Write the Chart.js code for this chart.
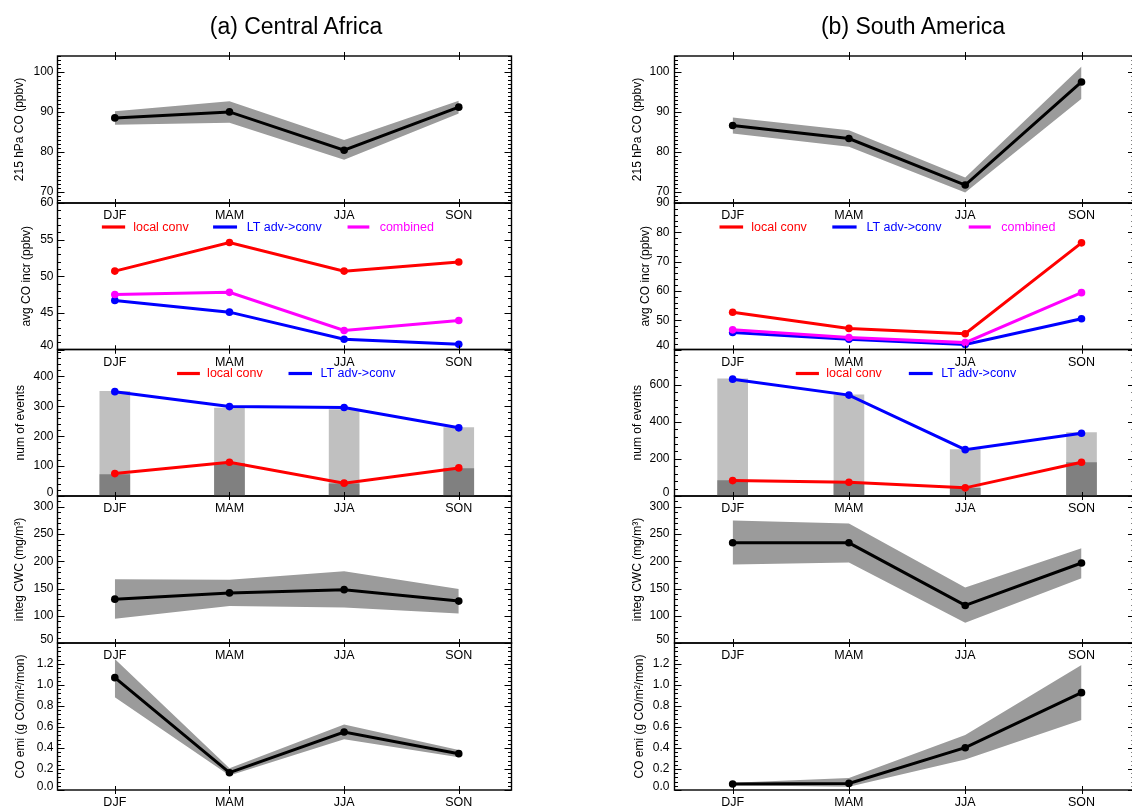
<!DOCTYPE html>
<html><head><meta charset="utf-8">
<script src="https://cdn.jsdelivr.net/npm/chart.js@4.4.1/dist/chart.umd.min.js"></script>
<style>
html,body{margin:0;padding:0;background:#fff;overflow:hidden;width:1132px;height:808px;}
#wrap{position:relative;width:1132px;height:808px;overflow:hidden;background:#fff;}
canvas{position:absolute;left:0;top:0;}
.ttl{position:absolute;top:12.5px;line-height:26px;font-size:23px;font-family:"Liberation Sans",Arial,Helvetica,sans-serif;color:#000;transform:translateX(-50%);white-space:nowrap;z-index:50;}
</style></head><body>
<div id="wrap">
<div class="ttl" style="left:296px">(a) Central Africa</div>
<div class="ttl" style="left:913px">(b) South America</div>
</div>
<script>
// ---------------- data ----------------
const seasons = ['DJF', 'MAM', 'JJA', 'SON'];

// (a) Central Africa
const afCO      = [88.5, 90.0, 80.4, 91.2];
const afCOhi    = [90.2, 92.7, 83.0, 92.8];
const afCOlo    = [86.8, 87.3, 78.0, 89.6];
const afIncrLocal = [50.7, 54.6, 50.7, 51.95];
const afIncrLT    = [46.7, 45.1, 41.4, 40.7];
const afIncrComb  = [47.5, 47.8, 42.6, 43.95];
const afEvLocal   = [75, 113, 43, 94];
const afEvLT      = [349, 299, 296, 228];
const afBarTotal  = [350, 294, 289, 229];
const afBarLocal  = [72, 109, 41, 92];
const afCWC     = [130.5, 142, 148, 127];
const afCWChi   = [167, 166, 182, 149];
const afCWClo   = [94.5, 118, 115, 104];
const afEmi     = [1.07, 0.165, 0.552, 0.346];
const afEmiHi   = [1.248, 0.206, 0.625, 0.38];
const afEmiLo   = [0.883, 0.137, 0.483, 0.311];

// (b) South America
const saCO      = [86.6, 83.35, 71.7, 97.5];
const saCOhi    = [88.6, 85.4, 73.6, 101.4];
const saCOlo    = [84.6, 81.3, 69.8, 93.3];
const saIncrLocal = [52.7, 47.2, 45.4, 76.4];
const saIncrLT    = [45.8, 43.5, 41.7, 50.5];
const saIncrComb  = [46.7, 44.1, 42.35, 59.4];
const saEvLocal   = [83, 74, 44, 182];
const saEvLT      = [630, 544, 250, 338];
const saBarTotal  = [632, 546, 250, 342];
const saBarLocal  = [83, 74, 42, 180];
const saCWC     = [234, 234, 119, 197];
const saCWChi   = [275, 269.5, 152, 224];
const saCWClo   = [194, 198, 87, 169];
const saEmi     = [0.057, 0.063, 0.403, 0.927];
const saEmiHi   = [0.07, 0.114, 0.524, 1.19];
const saEmiLo   = [0.045, 0.03, 0.29, 0.667];

// y axis tick labels per row
const yTicksCO   = [70, 80, 90, 100];
const yTicksIncrAf = [40, 45, 50, 55, 60];
const yTicksIncrSa = [40, 50, 60, 70, 80, 90];
const yTicksEvAf = [0, 100, 200, 300, 400];
const yTicksEvSa = [0, 200, 400, 600];
const yTicksCWC  = [50, 100, 150, 200, 250, 300];
const yTicksEmi  = [0, 0.2, 0.4, 0.6, 0.8, 1.0, 1.2];

// ---------------- styling / layout ----------------
const FONT = '"Liberation Sans", Arial, Helvetica, sans-serif';
const RED = '#ff0000', BLUE = '#0000ff', MAG = '#ff00ff';
const BAND = '#9b9b9b', BAR_LIGHT = '#c0c0c0', BAR_DARK = '#808080';
const CW = 1145, CH = 825;
const COLS = [{L: 57.5, R: 511.5}, {L: 674.5, R: 1135}];
const ROWS = [56, 203, 349.5, 496, 643, 790];
const YW = 45, XH = 24;
const wrap = document.getElementById('wrap');

const pts = arr => arr.map((v, i) => ({x: i, y: v}));

function lineDS(arr, color, order) {
  return {type: 'line', data: pts(arr), borderColor: color, borderWidth: 3, pointRadius: 3.8,
    pointBackgroundColor: color, pointBorderWidth: 0, pointHoverRadius: 3.8, tension: 0, fill: false, order};
}
function bandDS(hi, lo) {
  return [
    {type: 'line', data: pts(hi), borderColor: 'rgba(0,0,0,0)', borderWidth: 0, pointRadius: 0, fill: '+1', backgroundColor: BAND, tension: 0, order: 5},
    {type: 'line', data: pts(lo), borderColor: 'rgba(0,0,0,0)', borderWidth: 0, pointRadius: 0, fill: false, tension: 0, order: 6}
  ];
}
function barDS(arr, color, order) {
  return {type: 'bar', data: pts(arr), backgroundColor: color, borderWidth: 0, barThickness: 30, grouped: false, order};
}

const decor = {
  id: 'decor',
  afterDatasetsDraw(chart, args, o) {
    const {ctx, chartArea: a, scales: {x, y}} = chart;
    ctx.save();
    ctx.strokeStyle = '#000';
    ctx.lineWidth = 1;
    // minor y ticks
    const k0 = Math.ceil(y.min / o.minor - 1e-6), k1 = Math.floor(y.max / o.minor + 1e-6);
    ctx.beginPath();
    for (let k = k0; k <= k1; k++) {
      const v = k * o.minor;
      const major = o.major.some(m => Math.abs(m - v) < o.minor * 0.01);
      const len = major ? 7 : 3.5;
      const py = Math.round(y.getPixelForValue(v)) + 0.5;
      ctx.moveTo(a.left, py); ctx.lineTo(a.left + len, py);
      ctx.moveTo(a.right, py); ctx.lineTo(a.right - len, py);
    }
    // category ticks top & bottom
    for (let i = 0; i < seasons.length; i++) {
      const px = Math.round(x.getPixelForValue(i)) + 0.5;
      ctx.moveTo(px, a.bottom - 4); ctx.lineTo(px, a.bottom + 4);
      ctx.moveTo(px, a.top - 4); ctx.lineTo(px, a.top + 4);
    }
    ctx.stroke();
    // frame
    ctx.lineWidth = 1.4;
    ctx.strokeRect(a.left, a.top, a.right - a.left, a.bottom - a.top);
    // legend
    if (o.legend) {
      const ly = a.top + 24;
      ctx.font = '12.5px ' + FONT;
      ctx.textBaseline = 'middle';
      ctx.textAlign = 'left';
      for (const it of o.legend) {
        ctx.strokeStyle = it.c; ctx.lineWidth = 3.2;
        ctx.beginPath();
        ctx.moveTo(x.getPixelForValue(it.x0), ly);
        ctx.lineTo(x.getPixelForValue(it.x1), ly);
        ctx.stroke();
        ctx.fillStyle = it.c;
        ctx.fillText(it.t, x.getPixelForValue(it.xt), ly + 0.5);
      }
    }
    ctx.restore();
  }
};

const legIncr = [
  {c: RED, t: 'local conv', x0: -0.113, x1: 0.09, xt: 0.16},
  {c: BLUE, t: 'LT adv->conv', x0: 0.857, x1: 1.066, xt: 1.15},
  {c: MAG, t: 'combined', x0: 2.03, x1: 2.22, xt: 2.31}
];
const legEv = [
  {c: RED, t: 'local conv', x0: 0.543, x1: 0.742, xt: 0.805},
  {c: BLUE, t: 'LT adv->conv', x0: 1.515, x1: 1.72, xt: 1.793}
];

function makePanel(col, row, p) {
  const cv = document.createElement('canvas');
  cv.width = CW; cv.height = CH;
  cv.style.width = CW + 'px'; cv.style.height = CH + 'px';
  cv.style.zIndex = String(20 - row);
  wrap.appendChild(cv);
  const {L, R} = COLS[col];
  const T = ROWS[row], B = ROWS[row + 1];
  const isMin = v => Math.abs(v - p.min) < 1e-9;
  new Chart(cv, {
    type: 'line',
    data: {datasets: p.datasets},
    options: {
      responsive: false, animation: false, devicePixelRatio: 1,
      events: [],
      layout: {padding: {left: L - YW, right: CW - R, top: T, bottom: CH - B - XH}},
      plugins: {
        legend: {display: false}, tooltip: {enabled: false},
        decor: {minor: p.minor, major: p.ticks, legend: p.legend || null}
      },
      scales: {
        x: {
          type: 'linear', min: -0.5, max: 3.46, offset: false,
          grid: {display: false, drawTicks: false, offset: false}, border: {display: false},
          afterBuildTicks: s => { s.ticks = seasons.map((_, i) => ({value: i})); },
          afterFit: s => { s.height = XH; },
          ticks: {autoSkip: false, maxRotation: 0, minRotation: 0, padding: 5.5, color: '#000',
            font: {family: FONT, size: 12.5}, callback: v => seasons[v]}
        },
        y: {
          type: 'linear', min: p.min, max: p.max,
          grid: {display: false, drawTicks: false}, border: {display: false},
          afterBuildTicks: s => { s.ticks = p.ticks.map(v => ({value: v})); },
          afterFit: s => { s.width = YW; },
          ticks: {autoSkip: false, padding: col === 0 ? 4 : 5, color: '#000',
            // the label sitting on the bottom edge is lifted a little, as in the original
            font: c => (c.tick && isMin(c.tick.value)) ? {family: FONT, size: 12, lineHeight: 0.6} : {family: FONT, size: 12},
            callback: v => {
              const t = p.fmt ? p.fmt(v) : String(v);
              return isMin(v) ? [t, ''] : t;
            }},
          title: {display: true, text: p.title, color: '#000', font: {family: FONT, size: 12},
            padding: {top: p.tpad || 0, bottom: 0}}
        }
      }
    },
    plugins: [decor]
  });
}

const sets = [
  {
    CO: [afCO, afCOhi, afCOlo], incr: [afIncrLocal, afIncrLT, afIncrComb], incrTicks: yTicksIncrAf, incrMin: 40, incrMax: 60, incrMinor: 1,
    ev: [afEvLocal, afEvLT, afBarTotal, afBarLocal], evTicks: yTicksEvAf, evMax: 490, evMinor: 20,
    cwc: [afCWC, afCWChi, afCWClo], emi: [afEmi, afEmiHi, afEmiLo], tp: [0, 7, 0.5, 0, 0.5]
  },
  {
    CO: [saCO, saCOhi, saCOlo], incr: [saIncrLocal, saIncrLT, saIncrComb], incrTicks: yTicksIncrSa, incrMin: 40, incrMax: 90, incrMinor: 2,
    ev: [saEvLocal, saEvLT, saBarTotal, saBarLocal], evTicks: yTicksEvSa, evMax: 790, evMinor: 40,
    cwc: [saCWC, saCWChi, saCWClo], emi: [saEmi, saEmiHi, saEmiLo], tp: [0.5, 8.5, 0.5, 0.5, 3]
  }
];

sets.forEach((s, col) => {
  makePanel(col, 0, {
    datasets: [lineDS(s.CO[0], '#000', 0), ...bandDS(s.CO[1], s.CO[2])],
    min: 67.2, max: 104, ticks: yTicksCO, minor: 1, title: '215 hPa CO (ppbv)', tpad: s.tp[0]
  });
  makePanel(col, 1, {
    datasets: [lineDS(s.incr[0], RED, 0), lineDS(s.incr[2], MAG, 1), lineDS(s.incr[1], BLUE, 2)],
    min: s.incrMin, max: s.incrMax, ticks: s.incrTicks, minor: s.incrMinor, title: 'avg CO incr (ppbv)',
    tpad: s.tp[1], legend: legIncr
  });
  makePanel(col, 2, {
    datasets: [lineDS(s.ev[0], RED, 0), lineDS(s.ev[1], BLUE, 1), barDS(s.ev[3], BAR_DARK, 3), barDS(s.ev[2], BAR_LIGHT, 4)],
    min: 0, max: s.evMax, ticks: s.evTicks, minor: s.evMinor, title: 'num of events', tpad: s.tp[2], legend: legEv
  });
  makePanel(col, 3, {
    datasets: [lineDS(s.cwc[0], '#000', 0), ...bandDS(s.cwc[1], s.cwc[2])],
    min: 50, max: 320, ticks: yTicksCWC, minor: 10, title: 'integ CWC (mg/m³)', tpad: s.tp[3]
  });
  makePanel(col, 4, {
    datasets: [lineDS(s.emi[0], '#000', 0), ...bandDS(s.emi[1], s.emi[2])],
    min: 0, max: 1.4, ticks: yTicksEmi, minor: 0.04, title: 'CO emi (g CO/m²/mon)', tpad: s.tp[4],
    fmt: v => v.toFixed(1)
  });
});
</script>
</body></html>
